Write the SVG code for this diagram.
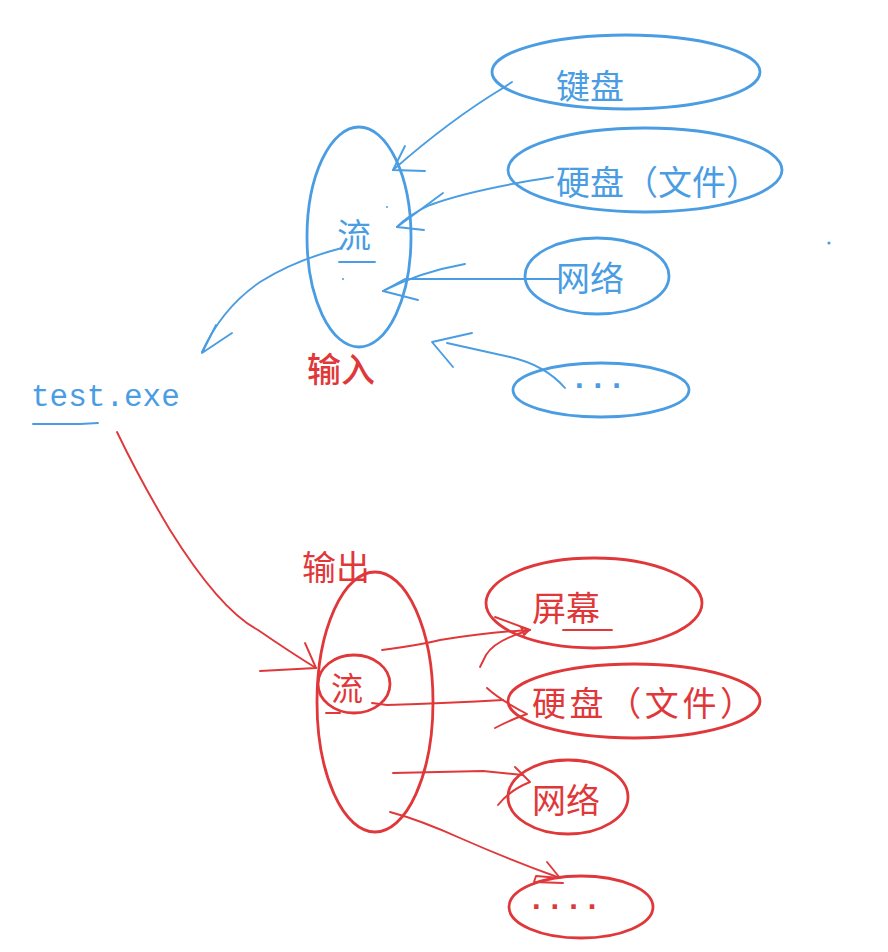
<svg xmlns="http://www.w3.org/2000/svg" width="888" height="952" viewBox="0 0 888 952">
<style>
.b{fill:none;stroke:#4a9de2;stroke-width:2.8}
.bl{fill:none;stroke:#4a9de2;stroke-width:1.9;stroke-linecap:round;stroke-linejoin:round}
.r{fill:none;stroke:#e0383a;stroke-width:2.8}
.rl{fill:none;stroke:#e0383a;stroke-width:1.9;stroke-linecap:round;stroke-linejoin:round}
.tb{fill:#4a9de2;font-family:"Noto Sans CJK SC",sans-serif;font-size:34px}
.tr{fill:#e0383a;font-family:"Noto Sans CJK SC",sans-serif;font-size:34px}
.mono{font-family:"Liberation Mono",monospace;font-size:31px;font-weight:bold}
.exe{fill:#4a9de2;font-family:"Liberation Mono",monospace;font-size:31px}
</style>
<rect width="888" height="952" fill="#ffffff"/>

<g id="input-stream">
<ellipse class="b" cx="359" cy="237" rx="52" ry="110"/>
<text class="tb" x="337" y="248">流</text>
<path class="bl" d="M339 262 L375 262"/>
</g>
<g id="input-label"><text class="tr" x="307" y="382" font-weight="500">输入</text></g>

<g id="keyboard">
<ellipse class="b" cx="626" cy="72" rx="134" ry="37"/>
<text class="tb" x="556" y="99">键盘</text>
</g>
<g id="disk-in">
<ellipse class="b" cx="645" cy="170" rx="137" ry="42"/>
<text class="tb" x="556" y="195" textLength="204">硬盘（文件）</text>
</g>
<g id="network-in">
<ellipse class="b" cx="597" cy="276" rx="72" ry="38"/>
<text class="tb" x="556" y="291">网络</text>
</g>
<g id="more-in">
<ellipse class="b" cx="601" cy="390" rx="88" ry="27"/>
<text class="tb mono" x="570" y="388">...</text>
</g>

<g id="program">
<text class="exe" x="31" y="406">test.exe</text>
<path class="bl" d="M33 424 L80 424 L98 423"/>
</g>

<g id="output-label"><text class="tr" x="302" y="580">输出</text></g>
<g id="output-stream">
<ellipse class="r" cx="375" cy="702" rx="58" ry="130"/>
<ellipse class="r" cx="354" cy="684" rx="36" ry="29"/>
<text class="tr" x="331" y="700" style="font-size:32px">流</text>
<path class="rl" d="M326 713 L340 713"/>
</g>
<g id="screen">
<ellipse class="r" cx="594" cy="603" rx="108" ry="45"/>
<text class="tr" x="532" y="621">屏幕</text>
<path class="rl" d="M563 630 L612 630"/>
</g>
<g id="disk-out">
<ellipse class="r" cx="634" cy="701" rx="126" ry="37"/>
<text class="tr" x="532" y="716" textLength="222">硬盘（文件）</text>
</g>
<g id="network-out">
<ellipse class="r" cx="568" cy="797" rx="60" ry="37"/>
<text class="tr" x="532" y="813">网络</text>
</g>
<g id="more-out">
<ellipse class="r" cx="581" cy="907" rx="72" ry="31"/>
<text class="tr mono" x="527" y="909">....</text>
</g>

<g id="connectors">
<path class="bl" d="M512 82 L503 88 Q450 120 393 170"/>
<path class="bl" d="M405 146 L393 170 L425 171"/>
<path class="bl" d="M553 177 Q470 190 430 205 Q408 215 397 227"/>
<path class="bl" d="M443 193 Q420 210 397 227 L424 230"/>
<path class="bl" d="M560 279 L405 279 L383 291"/>
<path class="bl" d="M465 264 Q420 272 383 291 L418 300"/>
<path class="bl" d="M565 388 Q545 365 510 357 Q470 348 447 343"/>
<path class="bl" d="M472 333 L432 342 L453 367"/>
<path class="bl" d="M342 248 Q295 260 260 282 Q222 308 202 352"/>
<path class="bl" d="M216 325 L202 353 L232 333"/>
<path class="rl" d="M117 432 Q140 480 170 530 Q220 610 258 630 Q290 652 316 668"/>
<path class="rl" d="M305 643 L316 668 L260 671"/>
<path class="rl" d="M382 650 Q420 645 440 640 Q490 632 530 630"/>
<path class="rl" d="M495 617 L530 630 Q495 640 486 655 L480 667"/>
<path class="rl" d="M521 627 L529 630 L524 635 Z"/>
<path class="rl" d="M372 703 L387 705 Q450 703 503 700"/>
<path class="rl" d="M487 688 Q500 700 527 714 Q510 720 495 728"/>
<path class="rl" d="M393 773 L483 771 L523 775"/>
<path class="rl" d="M515 767 L530 782 Q510 790 498 805"/>
<path class="rl" d="M390 812 Q420 820 460 838 Q510 860 560 878"/>
<path class="rl" d="M547 862 L560 878 L536 876 L534 882 L563 883"/>
</g>

<g id="specks">
<circle cx="829" cy="243" r="1.6" fill="#4a9de2"/>
<circle cx="387" cy="207" r="1" fill="#4a9de2"/>
<circle cx="343" cy="279" r="1" fill="#4a9de2"/>
</g>
</svg>
